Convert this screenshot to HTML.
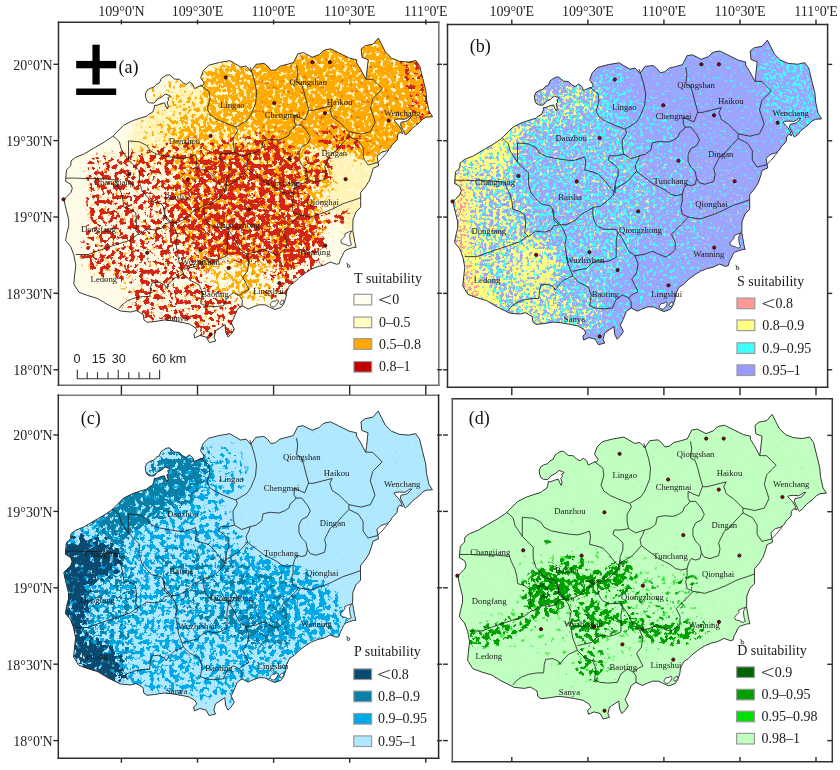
<!DOCTYPE html><html><head><meta charset="utf-8"><style>html,body{margin:0;padding:0;background:#fff;width:840px;height:770px;overflow:hidden}svg{display:block;will-change:transform}</style></head><body>
<svg width="840" height="770" viewBox="0 0 840 770">
<defs>
<path id="isl" d="M459.9,550.4 L460.4,546.2 L462.5,544.0 L464.6,542.1 L464.8,537.3 L469.3,533.8 L478.2,530.2 L487.1,524.8 L497.9,518.6 L505.9,513.2 L508.6,510.5 L517.5,501.6 L526.4,497.1 L535.0,494.2 L540.8,492.5 L542.5,490.8 L546.7,488.3 L547.9,485.0 L548.3,481.7 L550.8,481.7 L555.0,480.0 L558.3,479.2 L559.6,482.5 L561.2,485.4 L562.1,482.5 L560.8,478.3 L562.5,476.7 L561.7,474.2 L564.2,472.5 L562.5,471.7 L559.2,470.4 L555.0,473.8 L550.8,475.8 L549.2,478.3 L547.5,479.5 L543.3,479.2 L540.8,477.5 L539.6,474.2 L539.2,470.0 L540.8,466.7 L544.2,464.6 L547.5,463.8 L550.0,460.8 L553.3,459.2 L555.0,455.0 L557.5,453.3 L560.0,451.7 L563.3,451.2 L565.8,453.3 L568.3,455.4 L573.3,455.8 L576.7,459.2 L580.0,460.8 L583.3,458.3 L586.7,460.8 L588.3,465.0 L593.3,462.5 L596.7,461.7 L598.0,459.5 L594.5,454.1 L597.1,447.0 L602.5,441.6 L613.2,438.9 L623.9,437.1 L628.4,439.8 L634.6,443.4 L640.0,442.5 L642.7,445.2 L644.5,447.9 L649.8,440.7 L657.9,439.8 L661.4,442.5 L665.0,447.0 L669.5,446.1 L673.9,442.5 L681.1,440.7 L687.3,438.9 L691.8,430.0 L697.1,429.1 L706.1,433.6 L713.2,430.9 L716.8,427.3 L720.0,426.0 L724.7,425.3 L732.5,429.2 L743.4,434.6 L750.4,436.2 L750.4,439.3 L754.3,445.5 L759.7,455.6 L760.5,450.2 L762.0,436.2 L755.8,433.8 L755.0,425.3 L759.0,422.1 L766.8,420.6 L772.2,414.4 L775.3,420.6 L779.2,428.4 L785.5,434.6 L793.2,437.7 L802.6,438.5 L809.6,437.0 L813.5,442.4 L816.6,454.9 L819.7,467.3 L820.5,476.7 L822.9,487.6 L826.4,493.2 L820.0,493.6 L816.4,495.7 L812.9,499.3 L809.3,502.1 L805.7,505.0 L802.9,508.6 L799.3,511.4 L798.6,510.7 L797.1,507.1 L795.7,504.3 L794.3,501.4 L795.0,498.6 L798.6,497.9 L801.4,497.1 L805.7,492.5 L803.6,492.5 L801.4,494.3 L798.6,495.7 L793.6,495.4 L789.3,495.7 L787.9,496.4 L790.0,499.3 L792.9,502.1 L795.0,505.7 L796.4,510.0 L793.6,508.6 L791.4,511.4 L791.1,515.7 L788.6,518.6 L785.7,521.4 L784.3,524.3 L780.7,527.1 L775.7,528.6 L773.6,530.0 L770.9,532.9 L772.5,542.3 L767.0,544.6 L765.5,550.1 L763.1,557.1 L759.2,563.3 L754.5,568.8 L754.5,577.3 L754.5,583.6 L749.9,588.2 L746.8,596.0 L746.6,607.0 L747.5,612.0 L748.5,618.0 L749.9,623.8 L747.3,623.8 L743.4,625.1 L739.5,626.4 L737.5,629.0 L736.2,632.2 L734.3,635.5 L733.0,640.0 L730.4,640.7 L724.2,638.4 L717.9,641.5 L711.7,643.0 L705.5,645.4 L699.2,649.3 L693.0,654.0 L688.3,658.6 L683.6,661.8 L680.5,668.0 L679.7,674.2 L677.4,680.5 L675.1,683.6 L668.8,685.9 L663.4,683.6 L658.7,681.2 L652.5,681.2 L646.2,683.6 L642.2,685.5 L636.0,682.3 L631.3,685.5 L628.2,693.2 L625.1,699.5 L628.2,705.7 L625.1,710.4 L621.9,713.5 L619.6,708.8 L618.8,701.0 L609.5,707.3 L607.9,713.5 L609.5,717.4 L603.2,719.0 L600.1,713.5 L593.9,711.9 L588.4,714.3 L587.7,710.4 L590.8,707.3 L589.2,704.2 L583.0,700.3 L575.2,698.7 L565.8,697.1 L558.1,696.4 L548.7,697.9 L540.9,698.7 L537.8,696.4 L537.0,690.9 L533.1,688.6 L530.0,687.0 L524.7,688.4 L514.3,687.4 L510.1,685.3 L501.8,681.2 L491.4,674.9 L481.1,671.8 L472.8,668.7 L467.6,660.4 L468.6,650.0 L469.6,641.7 L467.6,631.3 L464.5,623.0 L459.4,616.9 L460.4,610.6 L462.5,602.3 L462.5,596.1 L460.4,587.8 L458.9,581.6 L457.8,575.8 L460.4,573.2 L464.6,569.1 L466.1,564.9 L464.6,560.8 L459.4,557.7Z"/>
<clipPath id="clip"><use href="#isl"/></clipPath>
<g id="bnd" fill="none" stroke="#1a1a1a" stroke-width="0.8" stroke-linejoin="round"><polyline points="594.3,461.4 602.9,468.1 603.8,475.7 601.0,485.2 603.8,491.0 610.5,495.7 621.9,500.5 629.5,503.3 633.3,501.4 641.0,496.7 644.8,491.0 649.5,479.5 650.5,468.1 648.6,458.6 645.7,449.0 643.8,443.3"/><polyline points="690.5,441.4 691.7,448.6 690.5,458.1 695.2,460.5 697.6,467.6 700.0,477.1 702.4,485.5 702.4,486.7"/><polyline points="702.4,486.7 707.1,486.7 716.7,484.3 726.2,481.9 723.8,486.7 726.2,493.8 733.3,498.6 738.1,503.3 742.9,508.1 754.8,510.5 764.3,508.1"/><polyline points="759.7,455.6 766.7,455.7 771.4,460.5 776.2,465.2 766.7,474.8 764.3,484.3 766.7,491.4 769.0,498.6 764.3,508.1"/><polyline points="742.9,508.1 742.9,512.9 752.4,517.6 757.1,524.8 757.1,534.3 761.9,541.4 771.4,539.0 776.2,534.3 782.5,526.5"/><polyline points="630.0,503.5 631.4,507.1 627.1,514.3 627.1,521.4 628.6,528.6 621.4,530.0 614.3,530.0 612.9,534.3 618.6,538.6 622.9,542.9 622.9,550.0 620.0,557.1 620.0,562.9 620.0,567.1"/><polyline points="702.4,486.7 698.8,496.2 692.9,493.8 688.1,491.4 688.1,498.6 690.0,501.4 687.9,504.3 684.3,507.1 682.9,511.4 678.6,514.3 672.9,516.4 664.3,515.7 657.1,517.1 655.7,524.3 650.0,528.6 644.3,530.0 635.7,532.9 628.6,528.6"/><polyline points="690.0,501.4 695.7,501.4 701.4,508.6 704.3,514.3 701.4,520.0 695.7,522.9 692.9,528.6 692.9,535.7 695.7,541.4 700.0,545.7 701.4,552.9 700.0,558.6 695.7,560.0 691.4,558.6"/><polyline points="742.9,512.9 736.0,520.0 730.0,527.1 724.3,531.4 721.4,537.1 718.6,542.9 720.0,548.6 718.6,555.7 710.0,558.6 704.3,557.1 701.4,552.9"/><polyline points="691.4,558.6 688.6,562.9 687.1,568.6 681.4,570.0 675.7,568.6 670.0,564.3 664.3,561.4 658.6,558.6 652.9,554.3 647.1,550.0 641.4,545.7 640.0,540.0 642.9,534.3 644.3,530.0"/><polyline points="620.0,563.0 632.0,556.0 641.4,545.7"/><polyline points="687.1,568.6 687.1,575.7 685.7,581.4 687.1,588.6 693.3,591.4 704.8,593.3 716.2,589.5 725.7,585.7 737.1,580.0 748.6,576.2 754.4,574.0"/><polyline points="693.3,591.4 685.7,599.0 676.2,608.6 680.0,616.2 680.0,623.8 676.2,627.6 670.5,631.4"/><polyline points="506.8,512.7 509.5,514.5 513.2,518.2 515.0,525.5 518.6,530.9 522.3,536.4 522.3,517.3 533.2,518.2 540.5,521.8 544.1,527.3 551.4,530.9 560.5,532.7 571.4,534.5 578.1,534.8 584.8,532.9 589.5,531.0 590.5,536.7 589.5,544.3 597.1,546.2 602.9,548.1 608.6,553.8 614.3,561.4 620.0,567.1"/><polyline points="522.3,536.4 527.7,541.8 533.2,547.3 533.2,558.2 535.9,567.3 540.5,572.7 545.9,578.2 555.0,580.0 558.6,585.5 558.6,594.5 564.1,599.1"/><polyline points="557.1,583.4 558.7,591.2 564.9,599.0 571.2,599.0 580.5,594.3 586.8,588.0 593.0,584.9 597.7,581.8 605.5,580.3 611.7,575.6 617.9,569.4 619.5,563.1 620.0,560.0"/><polyline points="459.5,554.5 469.5,554.5 480.0,555.0 495.0,555.0 509.5,556.4 511.4,561.8 515.0,569.1 516.8,576.4 517.7,583.6 524.1,585.5 529.5,589.1 530.5,598.2 529.5,607.3 533.2,610.9"/><polyline points="533.2,610.9 540.5,605.5 549.5,606.4 555.9,604.5 558.6,600.0 564.1,599.1"/><polyline points="469.5,630.9 482.3,630.9 491.4,627.3 502.3,623.6 513.2,620.0 524.1,616.4 531.4,610.9 533.2,610.9"/><polyline points="564.9,599.0 568.0,603.6 571.2,611.4 569.6,619.2 571.2,628.6 572.7,637.9 575.8,645.7 577.4,650.4"/><polyline points="597.7,581.8 597.7,589.6 599.2,595.8 602.3,600.5 608.6,603.6 614.8,603.6 621.0,603.6 622.6,606.8 621.0,614.5 621.0,622.3 621.0,631.7 614.8,634.8 608.6,636.4 602.3,634.8 596.1,637.9 591.4,642.6 583.6,644.2 577.4,645.7"/><polyline points="622.6,606.8 627.3,613.0 630.4,619.2 633.5,625.5 639.7,630.1 649.1,628.6 656.9,625.5 670.5,631.4"/><polyline points="639.7,630.1 642.9,637.9 641.3,647.3 636.6,653.5 639.7,659.7 642.9,666.0 636.6,669.1 633.5,672.2 636.0,676.0 636.0,682.3"/><polyline points="577.4,650.4 568.6,654.3 562.9,660.0 560.0,664.3 558.6,661.4 552.9,658.6 545.7,659.3 544.3,664.3 543.6,672.9 537.1,672.9 528.6,674.3 521.4,677.1 515.7,681.4 512.9,685.0"/><polyline points="577.4,650.4 583.6,656.6 593.0,661.3 596.1,669.1 594.5,680.0 600.1,682.3 607.9,683.1 617.3,682.3 621.0,673.8 627.3,669.1 633.5,672.2"/></g>
<g id="lag" fill="#fff" stroke="#222" stroke-width="0.8"><polygon points="746.0,607.2 742.1,608.5 738.8,610.1 738.8,612.7 736.2,615.3 734.6,617.3 735.6,619.9 739.5,620.8 742.7,622.5 745.3,621.2 744.0,617.3 743.4,611.4 744.7,608.8"/><polygon points="664.3,680.0 666.0,677.8 669.0,677.5 671.0,676.0 672.1,678.0 670.5,681.0 668.0,683.6 665.5,683.0 664.0,681.5"/><polygon points="673.6,679.5 675.5,676.8 677.5,676.5 677.9,678.5 676.0,680.7 674.3,681.0"/></g>
<g id="islet" fill="none" stroke="#222" stroke-width="0.9"><circle cx="742.4" cy="642.6" r="1.3"/><path d="M740.6,639.2 L741.6,641.2"/></g>
<g id="dots" fill="#a00000" stroke="#111" stroke-width="0.9"><circle cx="619.6" cy="453.8" r="1.6"/><circle cx="604.4" cy="512.3" r="1.6"/><circle cx="523.2" cy="550.3" r="1.6"/><circle cx="581.6" cy="555.7" r="1.6"/><circle cx="706.2" cy="438.6" r="1.6"/><circle cx="723.7" cy="438.6" r="1.6"/><circle cx="668.1" cy="479.5" r="1.6"/><circle cx="718.8" cy="489.6" r="1.6"/><circle cx="782.4" cy="497" r="1.6"/><circle cx="683.3" cy="535.1" r="1.6"/><circle cx="739.4" cy="555.6" r="1.6"/><circle cx="457.3" cy="575.7" r="1.6"/><circle cx="541" cy="629.2" r="1.6"/><circle cx="594.2" cy="626.5" r="1.6"/><circle cx="642.9" cy="585.7" r="1.6"/><circle cx="719" cy="621.9" r="1.6"/><circle cx="622.4" cy="644.4" r="1.6"/><circle cx="673.3" cy="659.6" r="1.6"/><circle cx="604.5" cy="710.7" r="1.6"/></g>
</defs>
<clipPath id="clipa"><use href="#isl" transform="translate(-393.8,-376.4)"/></clipPath>
<use href="#isl" transform="translate(-393.8,-376.4)" fill="#fefbe6"/>
<g clip-path="url(#clipa)">
<filter id="sp1" filterUnits="userSpaceOnUse" x="0" y="0" width="840" height="770" color-interpolation-filters="sRGB"><feTurbulence type="fractalNoise" baseFrequency="0.25" numOctaves="3" seed="21" result="n"/><feColorMatrix in="n" type="matrix" values="0 0 0 0 0 0 0 0 0 0 0 0 0 0 0 1 0 0 0 0" result="na"/><feComponentTransfer in="na" result="u"><feFuncA type="table" tableValues="0.0000 0.0000 0.0000 0.0000 0.0001 0.0002 0.0007 0.0018 0.0046 0.0096 0.0173 0.0320 0.0518 0.0766 0.1140 0.1547 0.2122 0.2699 0.3346 0.4198 0.4937 0.5810 0.6668 0.7320 0.7975 0.8441 0.8842 0.9223 0.9466 0.9658 0.9814 0.9896 0.9954 0.9979 0.9992 0.9998 1.0000 1.0000 1.0000 1.0000 1.0000"/></feComponentTransfer><feGaussianBlur in="SourceAlpha" stdDeviation="6" result="bl"/><feComposite in="bl" in2="u" operator="arithmetic" k1="0" k2="1" k3="-1" k4="0.5" result="dd"/><feColorMatrix in="dd" type="matrix" values="0 0 0 0 1.000 0 0 0 0 0.957 0 0 0 0 0.706 0 0 0 6 -2.95"/></filter>
<g filter="url(#sp1)" fill="#fff"><polygon points="125.0,160.0 140.0,112.0 175.0,85.0 210.0,65.0 260.0,55.0 330.0,40.0 400.0,30.0 440.0,60.0 440.0,140.0 420.0,170.0 400.0,200.0 385.0,230.0 360.0,240.0 340.0,225.0 320.0,195.0 290.0,175.0 250.0,160.0 200.0,160.0 160.0,165.0" fill-opacity="0.95"/><polygon points="345.0,200.0 390.0,200.0 395.0,240.0 370.0,275.0 345.0,270.0" fill-opacity="0.4"/><ellipse cx="228" cy="272" rx="14" ry="14" fill-opacity="0.35"/></g>
<filter id="sp2" filterUnits="userSpaceOnUse" x="0" y="0" width="840" height="770" color-interpolation-filters="sRGB"><feTurbulence type="fractalNoise" baseFrequency="0.25" numOctaves="3" seed="22" result="n"/><feColorMatrix in="n" type="matrix" values="0 0 0 0 0 0 0 0 0 0 0 0 0 0 0 1 0 0 0 0" result="na"/><feComponentTransfer in="na" result="u"><feFuncA type="table" tableValues="0.0000 0.0000 0.0000 0.0000 0.0001 0.0002 0.0007 0.0018 0.0046 0.0096 0.0173 0.0320 0.0518 0.0766 0.1140 0.1547 0.2122 0.2699 0.3346 0.4198 0.4937 0.5810 0.6668 0.7320 0.7975 0.8441 0.8842 0.9223 0.9466 0.9658 0.9814 0.9896 0.9954 0.9979 0.9992 0.9998 1.0000 1.0000 1.0000 1.0000 1.0000"/></feComponentTransfer><feGaussianBlur in="SourceAlpha" stdDeviation="5" result="bl"/><feComposite in="bl" in2="u" operator="arithmetic" k1="0" k2="1" k3="-1" k4="0.5" result="dd"/><feColorMatrix in="dd" type="matrix" values="0 0 0 0 1.000 0 0 0 0 0.667 0 0 0 0 0.000 0 0 0 6 -2.95"/></filter>
<g filter="url(#sp2)" fill="#fff"><polygon points="252.0,62.0 300.0,55.0 330.0,42.0 375.0,35.0 410.0,32.0 425.0,60.0 435.0,100.0 435.0,120.0 415.0,127.0 400.0,148.0 380.0,160.0 360.0,160.0 340.0,150.0 315.0,148.0 290.0,150.0 268.0,145.0 252.0,130.0 250.0,100.0" fill-opacity="0.9"/><polygon points="205.0,68.0 235.0,62.0 250.0,70.0 252.0,100.0 252.0,125.0 240.0,130.0 215.0,125.0 205.0,105.0 200.0,85.0" fill-opacity="0.75"/><polygon points="170.0,150.0 200.0,155.0 250.0,140.0 290.0,145.0 330.0,165.0 335.0,185.0 320.0,200.0 330.0,230.0 300.0,260.0 270.0,300.0 240.0,300.0 210.0,280.0 190.0,250.0 175.0,210.0" fill-opacity="0.6"/><polygon points="90.0,158.0 140.0,150.0 200.0,155.0 175.0,210.0 190.0,250.0 210.0,280.0 240.0,300.0 240.0,320.0 200.0,330.0 150.0,320.0 120.0,300.0 88.0,270.0 85.0,200.0" fill-opacity="0.15"/><polygon points="180.0,105.0 215.0,110.0 250.0,128.0 255.0,150.0 215.0,155.0 180.0,150.0" fill-opacity="0.35"/><ellipse cx="190" cy="132" rx="30" ry="16" fill-opacity="0.4"/><polygon points="130.0,85.0 180.0,80.0 200.0,100.0 180.0,110.0 140.0,110.0" fill-opacity="0.2"/><polygon points="125.0,160.0 140.0,112.0 175.0,85.0 210.0,65.0 250.0,60.0 250.0,140.0 200.0,150.0 160.0,160.0" fill-opacity="0.15"/></g>
<filter id="sp3" filterUnits="userSpaceOnUse" x="0" y="0" width="840" height="770" color-interpolation-filters="sRGB"><feTurbulence type="fractalNoise" baseFrequency="0.2" numOctaves="3" seed="23" result="n"/><feColorMatrix in="n" type="matrix" values="0 0 0 0 0 0 0 0 0 0 0 0 0 0 0 1 0 0 0 0" result="na"/><feComponentTransfer in="na" result="u"><feFuncA type="table" tableValues="0.0000 0.0000 0.0000 0.0000 0.0001 0.0002 0.0007 0.0018 0.0046 0.0096 0.0173 0.0320 0.0518 0.0766 0.1140 0.1547 0.2122 0.2699 0.3346 0.4198 0.4937 0.5810 0.6668 0.7320 0.7975 0.8441 0.8842 0.9223 0.9466 0.9658 0.9814 0.9896 0.9954 0.9979 0.9992 0.9998 1.0000 1.0000 1.0000 1.0000 1.0000"/></feComponentTransfer><feGaussianBlur in="SourceAlpha" stdDeviation="3" result="bl"/><feComposite in="bl" in2="u" operator="arithmetic" k1="0" k2="1" k3="-1" k4="0.5" result="dd"/><feColorMatrix in="dd" type="matrix" values="0 0 0 0 0.831 0 0 0 0 0.141 0 0 0 0 0.078 0 0 0 7 -3.45"/></filter>
<g filter="url(#sp3)" fill="#fff"><polygon points="200.0,158.0 225.0,150.0 250.0,150.0 268.0,140.0 288.0,146.0 298.0,160.0 300.0,180.0 296.0,200.0 300.0,215.0 315.0,225.0 325.0,240.0 318.0,255.0 300.0,262.0 285.0,265.0 270.0,262.0 250.0,262.0 230.0,258.0 215.0,262.0 200.0,250.0 185.0,235.0 175.0,220.0 180.0,200.0 190.0,180.0" fill-opacity="0.64"/><polygon points="298.0,155.0 315.0,152.0 332.0,160.0 332.0,180.0 318.0,186.0 300.0,185.0" fill-opacity="0.45"/><polygon points="293.0,185.0 312.0,186.0 316.0,205.0 312.0,218.0 296.0,215.0" fill-opacity="0.45"/><polygon points="298.0,205.0 325.0,208.0 350.0,210.0 350.0,222.0 325.0,222.0 298.0,220.0" fill-opacity="0.35"/><polygon points="283.0,214.0 300.0,214.0 328.0,222.0 330.0,240.0 320.0,257.0 300.0,262.0 283.0,258.0" fill-opacity="0.15"/><polygon points="90.0,158.0 110.0,155.0 140.0,150.0 170.0,150.0 200.0,160.0 190.0,180.0 180.0,200.0 175.0,220.0 185.0,235.0 200.0,250.0 210.0,262.0 205.0,275.0 190.0,285.0 170.0,282.0 150.0,285.0 130.0,282.0 110.0,278.0 90.0,270.0 82.0,255.0 85.0,235.0 88.0,215.0 88.0,190.0 88.0,170.0" fill-opacity="0.42"/><polygon points="130.0,290.0 160.0,285.0 190.0,285.0 210.0,282.0 220.0,295.0 235.0,300.0 245.0,310.0 245.0,325.0 235.0,340.0 220.0,345.0 200.0,335.0 180.0,325.0 160.0,322.0 140.0,318.0 125.0,308.0" fill-opacity="0.4"/><polygon points="270.0,258.0 300.0,258.0 320.0,257.0 325.0,265.0 310.0,280.0 295.0,290.0 285.0,298.0 270.0,298.0 262.0,285.0" fill-opacity="0.45"/><polygon points="150.0,148.0 180.0,140.0 210.0,138.0 240.0,138.0 260.0,132.0 280.0,140.0 270.0,150.0 240.0,152.0 210.0,155.0 180.0,155.0 155.0,158.0" fill-opacity="0.3"/><polygon points="395.0,35.0 420.0,45.0 433.0,100.0 433.0,118.0 415.0,125.0 405.0,90.0 400.0,60.0" fill-opacity="0.25"/><polygon points="320.0,125.0 345.0,130.0 365.0,140.0 360.0,150.0 340.0,150.0 320.0,145.0" fill-opacity="0.35"/><polygon points="250.0,60.0 420.0,30.0 435.0,120.0 390.0,160.0 300.0,150.0 250.0,140.0" fill-opacity="0.06"/></g>
<filter id="sp4" filterUnits="userSpaceOnUse" x="0" y="0" width="840" height="770" color-interpolation-filters="sRGB"><feTurbulence type="fractalNoise" baseFrequency="0.18" numOctaves="3" seed="24" result="n"/><feColorMatrix in="n" type="matrix" values="0 0 0 0 0 0 0 0 0 0 0 0 0 0 0 1 0 0 0 0" result="na"/><feComponentTransfer in="na" result="u"><feFuncA type="table" tableValues="0.0000 0.0000 0.0000 0.0000 0.0001 0.0002 0.0007 0.0018 0.0046 0.0096 0.0173 0.0320 0.0518 0.0766 0.1140 0.1547 0.2122 0.2699 0.3346 0.4198 0.4937 0.5810 0.6668 0.7320 0.7975 0.8441 0.8842 0.9223 0.9466 0.9658 0.9814 0.9896 0.9954 0.9979 0.9992 0.9998 1.0000 1.0000 1.0000 1.0000 1.0000"/></feComponentTransfer><feGaussianBlur in="SourceAlpha" stdDeviation="4" result="bl"/><feComposite in="bl" in2="u" operator="arithmetic" k1="0" k2="1" k3="-1" k4="0.5" result="dd"/><feColorMatrix in="dd" type="matrix" values="0 0 0 0 0.996 0 0 0 0 0.984 0 0 0 0 0.902 0 0 0 6 -2.95"/></filter>
<g filter="url(#sp4)" fill="#fff"><ellipse cx="228" cy="272" rx="12" ry="12" fill-opacity="0.7"/><ellipse cx="270" cy="283" rx="14" ry="12" fill-opacity="0.7"/><ellipse cx="150" cy="258" rx="14" ry="10" fill-opacity="0.6"/><ellipse cx="150" cy="210" rx="10" ry="6" fill-opacity="0.5"/><ellipse cx="210" cy="185" rx="8" ry="6" fill-opacity="0.5"/></g>
</g>
<g transform="translate(-393.8,-376.4)">
<use href="#isl" fill="none" stroke="#222" stroke-width="0.9"/>
<use href="#lag"/><use href="#islet"/><use href="#bnd"/><use href="#dots"/>
</g>
<clipPath id="clipb"><use href="#isl" transform="translate(-4.8,-374.3)"/></clipPath>
<use href="#isl" transform="translate(-4.8,-374.3)" fill="#9ea3fb"/>
<g clip-path="url(#clipb)">
<filter id="sp5" filterUnits="userSpaceOnUse" x="0" y="0" width="840" height="770" color-interpolation-filters="sRGB"><feTurbulence type="fractalNoise" baseFrequency="0.3" numOctaves="3" seed="31" result="n"/><feColorMatrix in="n" type="matrix" values="0 0 0 0 0 0 0 0 0 0 0 0 0 0 0 1 0 0 0 0" result="na"/><feComponentTransfer in="na" result="u"><feFuncA type="table" tableValues="0.0000 0.0000 0.0000 0.0000 0.0001 0.0002 0.0007 0.0018 0.0046 0.0096 0.0173 0.0320 0.0518 0.0766 0.1140 0.1547 0.2122 0.2699 0.3346 0.4198 0.4937 0.5810 0.6668 0.7320 0.7975 0.8441 0.8842 0.9223 0.9466 0.9658 0.9814 0.9896 0.9954 0.9979 0.9992 0.9998 1.0000 1.0000 1.0000 1.0000 1.0000"/></feComponentTransfer><feGaussianBlur in="SourceAlpha" stdDeviation="5" result="bl"/><feComposite in="bl" in2="u" operator="arithmetic" k1="0" k2="1" k3="-1" k4="0.5" result="dd"/><feColorMatrix in="dd" type="matrix" values="0 0 0 0 0.251 0 0 0 0 1.000 0 0 0 0 1.000 0 0 0 6 -2.95"/></filter>
<g filter="url(#sp5)" fill="#fff"><polygon points="440.0,30.0 830.0,30.0 830.0,350.0 440.0,350.0" fill-opacity="0.13"/><polygon points="455.0,140.0 500.0,120.0 540.0,100.0 580.0,80.0 610.0,100.0 640.0,150.0 650.0,200.0 640.0,240.0 620.0,270.0 600.0,310.0 580.0,335.0 540.0,335.0 500.0,315.0 470.0,290.0 455.0,230.0" fill-opacity="0.35"/><ellipse cx="610" cy="95" rx="22" ry="28" fill-opacity="0.25"/><polygon points="600.0,90.0 660.0,100.0 700.0,180.0 700.0,260.0 660.0,300.0 620.0,330.0 600.0,340.0 580.0,335.0 640.0,240.0 650.0,200.0 640.0,150.0" fill-opacity="0.15"/><polygon points="780.0,40.0 822.0,60.0 825.0,120.0 790.0,140.0 770.0,120.0 760.0,70.0" fill-opacity="0.35"/></g>
<filter id="sp6" filterUnits="userSpaceOnUse" x="0" y="0" width="840" height="770" color-interpolation-filters="sRGB"><feTurbulence type="fractalNoise" baseFrequency="0.3" numOctaves="3" seed="32" result="n"/><feColorMatrix in="n" type="matrix" values="0 0 0 0 0 0 0 0 0 0 0 0 0 0 0 1 0 0 0 0" result="na"/><feComponentTransfer in="na" result="u"><feFuncA type="table" tableValues="0.0000 0.0000 0.0000 0.0000 0.0001 0.0002 0.0007 0.0018 0.0046 0.0096 0.0173 0.0320 0.0518 0.0766 0.1140 0.1547 0.2122 0.2699 0.3346 0.4198 0.4937 0.5810 0.6668 0.7320 0.7975 0.8441 0.8842 0.9223 0.9466 0.9658 0.9814 0.9896 0.9954 0.9979 0.9992 0.9998 1.0000 1.0000 1.0000 1.0000 1.0000"/></feComponentTransfer><feGaussianBlur in="SourceAlpha" stdDeviation="5" result="bl"/><feComposite in="bl" in2="u" operator="arithmetic" k1="0" k2="1" k3="-1" k4="0.5" result="dd"/><feColorMatrix in="dd" type="matrix" values="0 0 0 0 1.000 0 0 0 0 1.000 0 0 0 0 0.502 0 0 0 6 -2.95"/></filter>
<g filter="url(#sp6)" fill="#fff"><polygon points="453.0,170.0 462.0,168.0 470.0,175.0 474.0,200.0 472.0,225.0 475.0,250.0 476.0,262.0 480.0,275.0 490.0,290.0 500.0,300.0 495.0,312.0 470.0,300.0 458.0,275.0 455.0,240.0 452.0,200.0" fill-opacity="1.0"/><polygon points="460.0,145.0 480.0,138.0 500.0,130.0 515.0,122.0 525.0,130.0 515.0,150.0 510.0,170.0 490.0,175.0 470.0,172.0 460.0,160.0" fill-opacity="0.8"/><polygon points="470.0,175.0 510.0,170.0 520.0,200.0 535.0,235.0 550.0,260.0 560.0,290.0 555.0,320.0 530.0,325.0 500.0,310.0 478.0,280.0 472.0,230.0" fill-opacity="0.4"/><ellipse cx="535" cy="265" rx="25" ry="25" fill-opacity="0.6"/><polygon points="520.0,100.0 545.0,85.0 570.0,80.0 600.0,82.0 605.0,100.0 580.0,115.0 550.0,125.0 525.0,130.0" fill-opacity="0.3"/><polygon points="520.0,290.0 560.0,295.0 600.0,300.0 610.0,320.0 590.0,335.0 550.0,330.0 520.0,315.0" fill-opacity="0.25"/><polygon points="640.0,150.0 720.0,150.0 760.0,200.0 700.0,260.0 640.0,250.0" fill-opacity="0.08"/><polygon points="455.0,140.0 500.0,120.0 540.0,100.0 580.0,80.0 610.0,100.0 640.0,150.0 650.0,200.0 640.0,240.0 620.0,270.0 600.0,310.0 580.0,335.0 540.0,335.0 500.0,315.0 470.0,290.0 455.0,230.0" fill-opacity="0.15"/></g>
<filter id="sp7" filterUnits="userSpaceOnUse" x="0" y="0" width="840" height="770" color-interpolation-filters="sRGB"><feTurbulence type="fractalNoise" baseFrequency="0.35" numOctaves="3" seed="33" result="n"/><feColorMatrix in="n" type="matrix" values="0 0 0 0 0 0 0 0 0 0 0 0 0 0 0 1 0 0 0 0" result="na"/><feComponentTransfer in="na" result="u"><feFuncA type="table" tableValues="0.0000 0.0000 0.0000 0.0000 0.0001 0.0002 0.0007 0.0018 0.0046 0.0096 0.0173 0.0320 0.0518 0.0766 0.1140 0.1547 0.2122 0.2699 0.3346 0.4198 0.4937 0.5810 0.6668 0.7320 0.7975 0.8441 0.8842 0.9223 0.9466 0.9658 0.9814 0.9896 0.9954 0.9979 0.9992 0.9998 1.0000 1.0000 1.0000 1.0000 1.0000"/></feComponentTransfer><feGaussianBlur in="SourceAlpha" stdDeviation="4" result="bl"/><feComposite in="bl" in2="u" operator="arithmetic" k1="0" k2="1" k3="-1" k4="0.5" result="dd"/><feColorMatrix in="dd" type="matrix" values="0 0 0 0 1.000 0 0 0 0 0.600 0 0 0 0 0.600 0 0 0 6 -2.95"/></filter>
<g filter="url(#sp7)" fill="#fff"><polygon points="453.0,172.0 462.0,170.0 468.0,200.0 466.0,230.0 470.0,260.0 478.0,285.0 488.0,300.0 470.0,300.0 460.0,275.0 455.0,240.0" fill-opacity="0.45"/></g>
</g>
<g transform="translate(-4.8,-374.3)">
<use href="#isl" fill="none" stroke="#222" stroke-width="0.9"/>
<use href="#lag"/><use href="#islet"/><use href="#bnd"/><use href="#dots"/>
</g>
<clipPath id="clipc"><use href="#isl" transform="translate(-394.0,-3.4)"/></clipPath>
<use href="#isl" transform="translate(-394.0,-3.4)" fill="#b0e8ff"/>
<g clip-path="url(#clipc)">
<filter id="sp8" filterUnits="userSpaceOnUse" x="0" y="0" width="840" height="770" color-interpolation-filters="sRGB"><feTurbulence type="fractalNoise" baseFrequency="0.2" numOctaves="3" seed="41" result="n"/><feColorMatrix in="n" type="matrix" values="0 0 0 0 0 0 0 0 0 0 0 0 0 0 0 1 0 0 0 0" result="na"/><feComponentTransfer in="na" result="u"><feFuncA type="table" tableValues="0.0000 0.0000 0.0000 0.0000 0.0001 0.0002 0.0007 0.0018 0.0046 0.0096 0.0173 0.0320 0.0518 0.0766 0.1140 0.1547 0.2122 0.2699 0.3346 0.4198 0.4937 0.5810 0.6668 0.7320 0.7975 0.8441 0.8842 0.9223 0.9466 0.9658 0.9814 0.9896 0.9954 0.9979 0.9992 0.9998 1.0000 1.0000 1.0000 1.0000 1.0000"/></feComponentTransfer><feGaussianBlur in="SourceAlpha" stdDeviation="5" result="bl"/><feComposite in="bl" in2="u" operator="arithmetic" k1="0" k2="1" k3="-1" k4="0.5" result="dd"/><feColorMatrix in="dd" type="matrix" values="0 0 0 0 0.000 0 0 0 0 0.659 0 0 0 0 0.910 0 0 0 6 -2.95"/></filter>
<g filter="url(#sp8)" fill="#fff"><polygon points="62.0,545.0 100.0,512.0 140.0,482.0 170.0,458.0 200.0,445.0 212.0,470.0 222.0,500.0 232.0,530.0 260.0,555.0 300.0,572.0 330.0,590.0 345.0,615.0 350.0,640.0 330.0,660.0 300.0,680.0 270.0,700.0 230.0,700.0 180.0,695.0 130.0,685.0 90.0,660.0 64.0,610.0" fill-opacity="0.5"/><ellipse cx="225" cy="470" rx="22" ry="25" fill-opacity="0.3"/><polygon points="240.0,560.0 280.0,560.0 320.0,575.0 340.0,600.0 330.0,625.0 300.0,640.0 270.0,640.0 250.0,620.0 235.0,590.0" fill-opacity="0.35"/></g>
<filter id="sp9" filterUnits="userSpaceOnUse" x="0" y="0" width="840" height="770" color-interpolation-filters="sRGB"><feTurbulence type="fractalNoise" baseFrequency="0.2" numOctaves="3" seed="42" result="n"/><feColorMatrix in="n" type="matrix" values="0 0 0 0 0 0 0 0 0 0 0 0 0 0 0 1 0 0 0 0" result="na"/><feComponentTransfer in="na" result="u"><feFuncA type="table" tableValues="0.0000 0.0000 0.0000 0.0000 0.0001 0.0002 0.0007 0.0018 0.0046 0.0096 0.0173 0.0320 0.0518 0.0766 0.1140 0.1547 0.2122 0.2699 0.3346 0.4198 0.4937 0.5810 0.6668 0.7320 0.7975 0.8441 0.8842 0.9223 0.9466 0.9658 0.9814 0.9896 0.9954 0.9979 0.9992 0.9998 1.0000 1.0000 1.0000 1.0000 1.0000"/></feComponentTransfer><feGaussianBlur in="SourceAlpha" stdDeviation="5" result="bl"/><feComposite in="bl" in2="u" operator="arithmetic" k1="0" k2="1" k3="-1" k4="0.5" result="dd"/><feColorMatrix in="dd" type="matrix" values="0 0 0 0 0.039 0 0 0 0 0.502 0 0 0 0 0.659 0 0 0 6 -2.95"/></filter>
<g filter="url(#sp9)" fill="#fff"><polygon points="90.0,520.0 120.0,495.0 140.0,480.0 165.0,452.0 200.0,443.0 210.0,462.0 205.0,480.0 190.0,498.0 170.0,510.0 150.0,522.0 130.0,535.0 118.0,545.0 105.0,535.0" fill-opacity="0.85"/><polygon points="62.0,545.0 118.0,545.0 135.0,560.0 140.0,590.0 135.0,620.0 130.0,650.0 125.0,680.0 80.0,665.0 62.0,600.0" fill-opacity="0.35"/><polygon points="160.0,545.0 200.0,548.0 240.0,562.0 280.0,572.0 300.0,592.0 290.0,622.0 260.0,642.0 220.0,640.0 190.0,622.0 170.0,600.0 150.0,572.0" fill-opacity="0.3"/><polygon points="225.0,610.0 260.0,622.0 292.0,632.0 292.0,645.0 260.0,645.0 225.0,625.0" fill-opacity="0.5"/></g>
<filter id="sp10" filterUnits="userSpaceOnUse" x="0" y="0" width="840" height="770" color-interpolation-filters="sRGB"><feTurbulence type="fractalNoise" baseFrequency="0.2" numOctaves="3" seed="43" result="n"/><feColorMatrix in="n" type="matrix" values="0 0 0 0 0 0 0 0 0 0 0 0 0 0 0 1 0 0 0 0" result="na"/><feComponentTransfer in="na" result="u"><feFuncA type="table" tableValues="0.0000 0.0000 0.0000 0.0000 0.0001 0.0002 0.0007 0.0018 0.0046 0.0096 0.0173 0.0320 0.0518 0.0766 0.1140 0.1547 0.2122 0.2699 0.3346 0.4198 0.4937 0.5810 0.6668 0.7320 0.7975 0.8441 0.8842 0.9223 0.9466 0.9658 0.9814 0.9896 0.9954 0.9979 0.9992 0.9998 1.0000 1.0000 1.0000 1.0000 1.0000"/></feComponentTransfer><feGaussianBlur in="SourceAlpha" stdDeviation="4" result="bl"/><feComposite in="bl" in2="u" operator="arithmetic" k1="0" k2="1" k3="-1" k4="0.5" result="dd"/><feColorMatrix in="dd" type="matrix" values="0 0 0 0 0.043 0 0 0 0 0.290 0 0 0 0 0.439 0 0 0 6 -2.95"/></filter>
<g filter="url(#sp10)" fill="#fff"><polygon points="63.0,545.0 75.0,538.0 90.0,537.0 105.0,541.0 118.0,548.0 120.0,560.0 115.0,572.0 100.0,578.0 90.0,585.0 88.0,600.0 87.0,615.0 84.0,625.0 82.0,632.0 90.0,640.0 105.0,645.0 118.0,655.0 122.0,670.0 125.0,680.0 112.0,684.0 95.0,676.0 80.0,665.0 72.0,648.0 68.0,630.0 64.0,610.0 63.0,590.0 62.0,565.0" fill-opacity="0.97"/></g>
</g>
<g transform="translate(-394.0,-3.4)">
<use href="#isl" fill="none" stroke="#222" stroke-width="0.9"/>
<use href="#lag"/><use href="#islet"/><use href="#bnd"/>
</g>
<clipPath id="clipd"><use href="#isl" transform="translate(0,0)"/></clipPath>
<use href="#isl" transform="translate(0,0)" fill="#c0ffc0"/>
<g clip-path="url(#clipd)">
<filter id="sp11" filterUnits="userSpaceOnUse" x="0" y="0" width="840" height="770" color-interpolation-filters="sRGB"><feTurbulence type="fractalNoise" baseFrequency="0.18" numOctaves="3" seed="11" result="n"/><feColorMatrix in="n" type="matrix" values="0 0 0 0 0 0 0 0 0 0 0 0 0 0 0 1 0 0 0 0" result="na"/><feComponentTransfer in="na" result="u"><feFuncA type="table" tableValues="0.0000 0.0000 0.0000 0.0000 0.0001 0.0002 0.0007 0.0018 0.0046 0.0096 0.0173 0.0320 0.0518 0.0766 0.1140 0.1547 0.2122 0.2699 0.3346 0.4198 0.4937 0.5810 0.6668 0.7320 0.7975 0.8441 0.8842 0.9223 0.9466 0.9658 0.9814 0.9896 0.9954 0.9979 0.9992 0.9998 1.0000 1.0000 1.0000 1.0000 1.0000"/></feComponentTransfer><feGaussianBlur in="SourceAlpha" stdDeviation="3" result="bl"/><feComposite in="bl" in2="u" operator="arithmetic" k1="0" k2="1" k3="-1" k4="0.5" result="dd"/><feColorMatrix in="dd" type="matrix" values="0 0 0 0 0.000 0 0 0 0 0.878 0 0 0 0 0.000 0 0 0 6 -2.95"/></filter>
<g filter="url(#sp11)" fill="#fff"><polygon points="520.0,560.0 560.0,548.0 600.0,548.0 640.0,555.0 680.0,565.0 700.0,580.0 700.0,620.0 690.0,640.0 660.0,650.0 630.0,660.0 610.0,685.0 580.0,690.0 560.0,675.0 540.0,650.0 500.0,648.0 475.0,640.0 475.0,620.0 500.0,610.0 520.0,600.0" fill-opacity="0.1"/></g>
<filter id="sp12" filterUnits="userSpaceOnUse" x="0" y="0" width="840" height="770" color-interpolation-filters="sRGB"><feTurbulence type="fractalNoise" baseFrequency="0.2" numOctaves="3" seed="7" result="n"/><feColorMatrix in="n" type="matrix" values="0 0 0 0 0 0 0 0 0 0 0 0 0 0 0 1 0 0 0 0" result="na"/><feComponentTransfer in="na" result="u"><feFuncA type="table" tableValues="0.0000 0.0000 0.0000 0.0000 0.0001 0.0002 0.0007 0.0018 0.0046 0.0096 0.0173 0.0320 0.0518 0.0766 0.1140 0.1547 0.2122 0.2699 0.3346 0.4198 0.4937 0.5810 0.6668 0.7320 0.7975 0.8441 0.8842 0.9223 0.9466 0.9658 0.9814 0.9896 0.9954 0.9979 0.9992 0.9998 1.0000 1.0000 1.0000 1.0000 1.0000"/></feComponentTransfer><feGaussianBlur in="SourceAlpha" stdDeviation="3" result="bl"/><feComposite in="bl" in2="u" operator="arithmetic" k1="0" k2="1" k3="-1" k4="0.5" result="dd"/><feColorMatrix in="dd" type="matrix" values="0 0 0 0 0.000 0 0 0 0 0.627 0 0 0 0 0.000 0 0 0 6 -2.95"/></filter>
<g filter="url(#sp12)" fill="#fff"><ellipse cx="545" cy="592" rx="22" ry="24" fill-opacity="0.7"/><ellipse cx="562" cy="574" rx="24" ry="11" fill-opacity="0.5"/><polygon points="558.0,585.0 575.0,578.0 595.0,572.0 615.0,565.0 628.0,560.0 632.0,572.0 618.0,585.0 600.0,592.0 580.0,600.0 565.0,605.0" fill-opacity="0.6"/><ellipse cx="572" cy="562" rx="18" ry="8" fill-opacity="0.35"/><ellipse cx="593" cy="622" rx="22" ry="22" fill-opacity="0.6"/><polygon points="466.0,634.0 500.0,620.0 520.0,615.0 535.0,613.0 535.0,625.0 515.0,635.0 495.0,645.0 472.0,646.0" fill-opacity="0.55"/><polygon points="620.0,608.0 640.0,620.0 660.0,622.0 690.0,625.0 698.0,640.0 670.0,645.0 645.0,638.0 625.0,630.0 615.0,620.0" fill-opacity="0.6"/><ellipse cx="620" cy="582" rx="15" ry="20" fill-opacity="0.35"/><ellipse cx="590" cy="664" rx="15" ry="18" fill-opacity="0.4"/><ellipse cx="688" cy="583" rx="12" ry="8" fill-opacity="0.3"/><polygon points="600.0,575.0 660.0,575.0 690.0,600.0 690.0,625.0 640.0,620.0 610.0,605.0" fill-opacity="0.15"/><ellipse cx="700" cy="628" rx="12" ry="9" fill-opacity="0.3"/><ellipse cx="548" cy="540" rx="10" ry="6" fill-opacity="0.2"/></g>
<filter id="sp13" filterUnits="userSpaceOnUse" x="0" y="0" width="840" height="770" color-interpolation-filters="sRGB"><feTurbulence type="fractalNoise" baseFrequency="0.2" numOctaves="3" seed="3" result="n"/><feColorMatrix in="n" type="matrix" values="0 0 0 0 0 0 0 0 0 0 0 0 0 0 0 1 0 0 0 0" result="na"/><feComponentTransfer in="na" result="u"><feFuncA type="table" tableValues="0.0000 0.0000 0.0000 0.0000 0.0001 0.0002 0.0007 0.0018 0.0046 0.0096 0.0173 0.0320 0.0518 0.0766 0.1140 0.1547 0.2122 0.2699 0.3346 0.4198 0.4937 0.5810 0.6668 0.7320 0.7975 0.8441 0.8842 0.9223 0.9466 0.9658 0.9814 0.9896 0.9954 0.9979 0.9992 0.9998 1.0000 1.0000 1.0000 1.0000 1.0000"/></feComponentTransfer><feGaussianBlur in="SourceAlpha" stdDeviation="2.5" result="bl"/><feComposite in="bl" in2="u" operator="arithmetic" k1="0" k2="1" k3="-1" k4="0.5" result="dd"/><feColorMatrix in="dd" type="matrix" values="0 0 0 0 0.000 0 0 0 0 0.392 0 0 0 0 0.000 0 0 0 6 -2.95"/></filter>
<g filter="url(#sp13)" fill="#fff"><ellipse cx="545" cy="588" rx="12" ry="12" fill-opacity="0.35"/><ellipse cx="600" cy="580" rx="18" ry="6" fill-opacity="0.3"/><ellipse cx="590" cy="622" rx="10" ry="10" fill-opacity="0.2"/><ellipse cx="650" cy="630" rx="15" ry="6" fill-opacity="0.25"/></g>
</g>
<g transform="translate(0,0)">
<use href="#isl" fill="none" stroke="#222" stroke-width="0.9"/>
<use href="#lag"/><use href="#islet"/><use href="#bnd"/><use href="#dots"/>
</g>
<g font-family='"Liberation Serif", serif' font-size="8.7" fill="#1a1a1a">
<text x="220" y="108">Lingao</text>
<text x="168.8" y="144">Danzhou</text>
<text x="289.4" y="85.3">Qiongshan</text>
<text x="326.8" y="104.6">Haikou</text>
<text x="264.8" y="118">Chengmai</text>
<text x="321.6" y="156.4">Dingan</text>
<text x="383.9" y="115.8">Wenchang</text>
<text x="94.1" y="185.3">Changjiang</text>
<text x="164.4" y="199.6">Baisha</text>
<text x="81" y="231.7">Dongfang</text>
<text x="181" y="264.6">Wuzhishan</text>
<text x="90.6" y="281.7">Ledong</text>
<text x="265.2" y="185.5">Tunchang</text>
<text x="306.6" y="205">Qionghai</text>
<text x="216.8" y="228.2">Qiongzhong</text>
<text x="299.4" y="254.7">Wanning</text>
<text x="201.3" y="296.5">Baoting</text>
<text x="252.9" y="294">Lingshui</text>
<text x="166.8" y="321">Sanya</text>
<text x="611.9" y="109.8">Lingao</text>
<text x="555.5" y="140.8">Danzhou</text>
<text x="677.3" y="88.3">Qiongshan</text>
<text x="718" y="103.9">Haikou</text>
<text x="655.8" y="118.8">Chengmai</text>
<text x="707.9" y="156.6">Dingan</text>
<text x="772.4" y="116.3">Wenchang</text>
<text x="475" y="184.8">Changjiang</text>
<text x="558.3" y="200.3">Baisha</text>
<text x="471.4" y="234.4">Dongfang</text>
<text x="565.5" y="263.4">Wuzhishan</text>
<text x="473.8" y="283.2">Ledong</text>
<text x="653.6" y="183.7">Tunchang</text>
<text x="695.3" y="206.7">Qionghai</text>
<text x="619" y="232.7">Qiongzhong</text>
<text x="693.3" y="256.5">Wanning</text>
<text x="591.7" y="296.7">Baoting</text>
<text x="651.2" y="296.7">Lingshui</text>
<text x="563.8" y="322">Sanya</text>
<text x="219" y="482">Lingao</text>
<text x="167.1" y="516.5">Danzhou</text>
<text x="282.9" y="459.8">Qiongshan</text>
<text x="323.8" y="475.8">Haikou</text>
<text x="263.8" y="491.3">Chengmai</text>
<text x="319.8" y="526">Dingan</text>
<text x="384" y="487.2">Wenchang</text>
<text x="85" y="556.5">Changjiang</text>
<text x="169.5" y="573.7">Baisha</text>
<text x="80.2" y="603.2">Dongfang</text>
<text x="177.9" y="628.9">Wuzhishan</text>
<text x="81" y="658.7">Ledong</text>
<text x="263.8" y="555.6">Tunchang</text>
<text x="306" y="576.2">Qionghai</text>
<text x="210" y="600.7">Qiongzhong</text>
<text x="300.8" y="627">Wanning</text>
<text x="205.2" y="671">Baoting</text>
<text x="257.6" y="668.9">Lingshui</text>
<text x="166" y="693.7">Sanya</text>
<text x="612.4" y="478.2">Lingao</text>
<text x="554.3" y="514.3">Danzhou</text>
<text x="676.7" y="457.2">Qiongshan</text>
<text x="716.7" y="475.7">Haikou</text>
<text x="655.7" y="489.6">Chengmai</text>
<text x="711.5" y="528">Dingan</text>
<text x="773" y="486.5">Wenchang</text>
<text x="470.2" y="555.3">Changjiang</text>
<text x="555" y="572.8">Baisha</text>
<text x="471.8" y="604.2">Dongfang</text>
<text x="564" y="627.1">Wuzhishan</text>
<text x="475.6" y="658.5">Ledong</text>
<text x="653.3" y="559">Tunchang</text>
<text x="701.9" y="576.7">Qionghai</text>
<text x="621" y="599.6">Qiongzhong</text>
<text x="688.6" y="627.9">Wanning</text>
<text x="609.5" y="670">Baoting</text>
<text x="650.5" y="667.6">Lingshui</text>
<text x="558.8" y="694.5">Sanya</text>
</g>
<g stroke-width="1.5" stroke-linecap="square"><line x1="58.5" y1="22.3" x2="438.8" y2="22.3" stroke="#2e2e2e"/><line x1="438.8" y1="22.3" x2="438.8" y2="385.3" stroke="#6a6a6a"/><line x1="58.5" y1="385.3" x2="438.8" y2="385.3" stroke="#6a6a6a"/><line x1="58.5" y1="22.3" x2="58.5" y2="385.3" stroke="#2e2e2e"/></g>
<g stroke-width="1.5" stroke-linecap="square"><line x1="447.5" y1="24.4" x2="827.6" y2="24.4" stroke="#2e2e2e"/><line x1="827.6" y1="24.4" x2="827.6" y2="387.2" stroke="#2e2e2e"/><line x1="447.5" y1="387.2" x2="827.6" y2="387.2" stroke="#2e2e2e"/><line x1="447.5" y1="24.4" x2="447.5" y2="387.2" stroke="#2e2e2e"/></g>
<g stroke-width="1.5" stroke-linecap="square"><line x1="58.3" y1="395.3" x2="438.6" y2="395.3" stroke="#777777"/><line x1="438.6" y1="395.3" x2="438.6" y2="758.2" stroke="#262626"/><line x1="58.3" y1="758.2" x2="438.6" y2="758.2" stroke="#2e2e2e"/><line x1="58.3" y1="395.3" x2="58.3" y2="758.2" stroke="#2e2e2e"/></g>
<g stroke-width="1.5" stroke-linecap="square"><line x1="452.3" y1="398.7" x2="832.3" y2="398.7" stroke="#333333"/><line x1="832.3" y1="398.7" x2="832.3" y2="761.7" stroke="#3a3a3a"/><line x1="452.3" y1="761.7" x2="832.3" y2="761.7" stroke="#2e2e2e"/><line x1="452.3" y1="398.7" x2="452.3" y2="761.7" stroke="#555555"/></g>
<g stroke="#2a2a2a" stroke-width="1.4"><line x1="121.4" y1="19.6" x2="121.4" y2="24.4"/><line x1="121.4" y1="385.3" x2="121.4" y2="394.8"/><line x1="121.4" y1="758.2" x2="121.4" y2="762.8"/><line x1="197.5" y1="19.6" x2="197.5" y2="24.4"/><line x1="197.5" y1="385.3" x2="197.5" y2="394.8"/><line x1="197.5" y1="758.2" x2="197.5" y2="762.8"/><line x1="273.6" y1="19.6" x2="273.6" y2="24.4"/><line x1="273.6" y1="385.3" x2="273.6" y2="394.8"/><line x1="273.6" y1="758.2" x2="273.6" y2="762.8"/><line x1="349.7" y1="19.6" x2="349.7" y2="24.4"/><line x1="349.7" y1="385.3" x2="349.7" y2="394.8"/><line x1="349.7" y1="758.2" x2="349.7" y2="762.8"/><line x1="425.8" y1="19.6" x2="425.8" y2="24.4"/><line x1="425.8" y1="385.3" x2="425.8" y2="394.8"/><line x1="425.8" y1="758.2" x2="425.8" y2="762.8"/><line x1="53.4" y1="64.3" x2="58.5" y2="64.3"/><line x1="437.1" y1="64.3" x2="441.9" y2="64.3"/><line x1="53.4" y1="140.6" x2="58.5" y2="140.6"/><line x1="437.1" y1="140.6" x2="441.9" y2="140.6"/><line x1="53.4" y1="217.0" x2="58.5" y2="217.0"/><line x1="437.1" y1="217.0" x2="441.9" y2="217.0"/><line x1="53.4" y1="293.3" x2="58.5" y2="293.3"/><line x1="437.1" y1="293.3" x2="441.9" y2="293.3"/><line x1="53.4" y1="369.7" x2="58.5" y2="369.7"/><line x1="437.1" y1="369.7" x2="441.9" y2="369.7"/><line x1="511.8" y1="19.6" x2="511.8" y2="24.4"/><line x1="511.8" y1="387.2" x2="511.8" y2="395.2"/><line x1="511.8" y1="761.7" x2="511.8" y2="757.0"/><line x1="587.9" y1="19.6" x2="587.9" y2="24.4"/><line x1="587.9" y1="387.2" x2="587.9" y2="395.2"/><line x1="587.9" y1="761.7" x2="587.9" y2="757.0"/><line x1="663.9" y1="19.6" x2="663.9" y2="24.4"/><line x1="663.9" y1="387.2" x2="663.9" y2="395.2"/><line x1="663.9" y1="761.7" x2="663.9" y2="757.0"/><line x1="740.0" y1="19.6" x2="740.0" y2="24.4"/><line x1="740.0" y1="387.2" x2="740.0" y2="395.2"/><line x1="740.0" y1="761.7" x2="740.0" y2="757.0"/><line x1="816.0" y1="19.6" x2="816.0" y2="24.4"/><line x1="816.0" y1="387.2" x2="816.0" y2="395.2"/><line x1="816.0" y1="761.7" x2="816.0" y2="757.0"/><line x1="443.1" y1="64.4" x2="447.5" y2="64.4"/><line x1="827.6" y1="64.4" x2="832.2" y2="64.4"/><line x1="443.1" y1="140.8" x2="447.5" y2="140.8"/><line x1="827.6" y1="140.8" x2="832.2" y2="140.8"/><line x1="443.1" y1="217.1" x2="447.5" y2="217.1"/><line x1="827.6" y1="217.1" x2="832.2" y2="217.1"/><line x1="443.1" y1="293.4" x2="447.5" y2="293.4"/><line x1="827.6" y1="293.4" x2="832.2" y2="293.4"/><line x1="443.1" y1="369.8" x2="447.5" y2="369.8"/><line x1="827.6" y1="369.8" x2="832.2" y2="369.8"/><line x1="53.4" y1="435.0" x2="58.3" y2="435.0"/><line x1="437.1" y1="435.0" x2="441.9" y2="435.0"/><line x1="443.1" y1="435.0" x2="447.9" y2="435.0"/><line x1="53.4" y1="511.4" x2="58.3" y2="511.4"/><line x1="437.1" y1="511.4" x2="441.9" y2="511.4"/><line x1="443.1" y1="511.4" x2="447.9" y2="511.4"/><line x1="53.4" y1="587.8" x2="58.3" y2="587.8"/><line x1="437.1" y1="587.8" x2="441.9" y2="587.8"/><line x1="443.1" y1="587.8" x2="447.9" y2="587.8"/><line x1="53.4" y1="664.2" x2="58.3" y2="664.2"/><line x1="437.1" y1="664.2" x2="441.9" y2="664.2"/><line x1="443.1" y1="664.2" x2="447.9" y2="664.2"/><line x1="53.4" y1="740.6" x2="58.3" y2="740.6"/><line x1="437.1" y1="740.6" x2="441.9" y2="740.6"/><line x1="443.1" y1="740.6" x2="447.9" y2="740.6"/><line x1="832.3" y1="435.4" x2="827.2" y2="435.4"/><line x1="832.3" y1="511.7" x2="827.2" y2="511.7"/><line x1="832.3" y1="588.0" x2="827.2" y2="588.0"/><line x1="832.3" y1="664.3" x2="827.2" y2="664.3"/><line x1="832.3" y1="740.6" x2="827.2" y2="740.6"/></g>
<g font-family='"Liberation Serif", serif' font-size="14" fill="#222" text-anchor="middle">
<text x="121.4" y="15.9">109°0'N</text>
<text x="197.5" y="15.9">109°30'E</text>
<text x="273.6" y="15.9">110°0'E</text>
<text x="349.7" y="15.9">110°30'E</text>
<text x="425.8" y="15.9">111°0'E</text>
<text x="511.8" y="16.1">109°0'E</text>
<text x="587.9" y="16.1">109°30'E</text>
<text x="663.9" y="16.1">110°0'E</text>
<text x="740.0" y="16.1">110°30'E</text>
<text x="816.0" y="16.1">111°0'E</text>
</g>
<g font-family='"Liberation Serif", serif' font-size="14" fill="#222" text-anchor="end">
<text x="52.6" y="69.6">20°0'N</text>
<text x="52.6" y="145.9">19°30'N</text>
<text x="52.6" y="222.3">19°0'N</text>
<text x="52.6" y="298.6">18°30'N</text>
<text x="52.6" y="375.0">18°0'N</text>
<text x="52.6" y="440.3">20°0'N</text>
<text x="52.6" y="516.7">19°30'N</text>
<text x="52.6" y="593.1">19°0'N</text>
<text x="52.6" y="669.5">18°30'N</text>
<text x="52.6" y="745.9">18°0'N</text>
</g>
<g font-family='"Liberation Serif", serif' font-size="18" fill="#111">
<text x="118.6" y="73.2">(a)</text>
<text x="469.8" y="52.2">(b)</text>
<text x="80.8" y="424.0">(c)</text>
<text x="468.8" y="424.0">(d)</text>
</g>
<g fill="#000"><rect x="92.4" y="44.7" width="7.3" height="39.8"/><rect x="76.2" y="60.9" width="40" height="7.4"/><rect x="76.2" y="88.5" width="40" height="6.5"/></g>
<g stroke="#333" stroke-width="1.1" fill="none"><polyline points="77.3,369.7 77.3,378.8 159.6,378.8 159.6,369.7"/><line x1="118.3" y1="369.7" x2="118.3" y2="378.8"/><line x1="87.2" y1="372.2" x2="87.2" y2="378.8"/><line x1="97.5" y1="372.2" x2="97.5" y2="378.8"/><line x1="108" y1="372.2" x2="108" y2="378.8"/><line x1="128.7" y1="372.2" x2="128.7" y2="378.8"/><line x1="139" y1="372.2" x2="139" y2="378.8"/><line x1="149.7" y1="372.2" x2="149.7" y2="378.8"/></g>
<g font-family='"Liberation Sans", sans-serif' font-size="12.6" fill="#222"><text x="73.6" y="362.5">0</text><text x="91.7" y="362.5">15</text><text x="111.7" y="362.5">30</text><text x="152" y="362.5">60 km</text></g>
<text x="354.1" y="282.8" font-family='"Liberation Serif", serif' font-size="14" fill="#1a1a1a">T suitability</text><rect x="353.90000000000003" y="294.3" width="17.8" height="10.6" fill="#fefdf0" stroke="#9a9a9a" stroke-width="1.2"/><polyline points="391.0,295.5 379.5,299.8 391.0,304.1" fill="none" stroke="#222" stroke-width="0.9"/><text x="392.3" y="304.1" font-family='"Liberation Serif", serif' font-size="14" fill="#1a1a1a">0</text><rect x="353.90000000000003" y="317.1" width="17.8" height="10.6" fill="#ffffc0" stroke="#9a9a9a" stroke-width="1.2"/><text x="379.0" y="326.9" font-family='"Liberation Serif", serif' font-size="14" fill="#1a1a1a">0–0.5</text><rect x="353.90000000000003" y="338.70000000000005" width="17.8" height="10.6" fill="#ffaa00" stroke="#9a9a9a" stroke-width="1.2"/><text x="379.0" y="348.5" font-family='"Liberation Serif", serif' font-size="14" fill="#1a1a1a">0.5–0.8</text><rect x="353.90000000000003" y="361.5" width="17.8" height="10.6" fill="#c00000" stroke="#9a9a9a" stroke-width="1.2"/><text x="379.0" y="371.3" font-family='"Liberation Serif", serif' font-size="14" fill="#1a1a1a">0.8–1</text>
<text x="736.9" y="286.2" font-family='"Liberation Serif", serif' font-size="14" fill="#1a1a1a">S suitability</text><rect x="737.0" y="298.1" width="17.8" height="10.6" fill="#ff9999" stroke="#9a9a9a" stroke-width="1.2"/><polyline points="774.2,299.3 762.7,303.6 774.2,307.9" fill="none" stroke="#222" stroke-width="0.9"/><text x="775.5" y="307.9" font-family='"Liberation Serif", serif' font-size="14" fill="#1a1a1a">0.8</text><rect x="737.0" y="320.0" width="17.8" height="10.6" fill="#ffff80" stroke="#9a9a9a" stroke-width="1.2"/><text x="762.2" y="329.8" font-family='"Liberation Serif", serif' font-size="14" fill="#1a1a1a">0.8–0.9</text><rect x="737.0" y="342.8" width="17.8" height="10.6" fill="#40ffff" stroke="#9a9a9a" stroke-width="1.2"/><text x="762.2" y="352.6" font-family='"Liberation Serif", serif' font-size="14" fill="#1a1a1a">0.9–0.95</text><rect x="737.0" y="364.90000000000003" width="17.8" height="10.6" fill="#9999ff" stroke="#9a9a9a" stroke-width="1.2"/><text x="762.2" y="374.7" font-family='"Liberation Serif", serif' font-size="14" fill="#1a1a1a">0.95–1</text>
<text x="354.0" y="656.1" font-family='"Liberation Serif", serif' font-size="14" fill="#1a1a1a">P suitability</text><rect x="353.8" y="668.9" width="17.8" height="10.6" fill="#0b4a70" stroke="#9a9a9a" stroke-width="1.2"/><polyline points="389.9,670.1 378.4,674.4 389.9,678.7" fill="none" stroke="#222" stroke-width="0.9"/><text x="391.2" y="678.7" font-family='"Liberation Serif", serif' font-size="14" fill="#1a1a1a">0.8</text><rect x="353.8" y="691.1" width="17.8" height="10.6" fill="#0a80a8" stroke="#9a9a9a" stroke-width="1.2"/><text x="377.9" y="700.9" font-family='"Liberation Serif", serif' font-size="14" fill="#1a1a1a">0.8–0.9</text><rect x="353.8" y="713.5" width="17.8" height="10.6" fill="#00a8e8" stroke="#9a9a9a" stroke-width="1.2"/><text x="377.9" y="723.3" font-family='"Liberation Serif", serif' font-size="14" fill="#1a1a1a">0.9–0.95</text><rect x="353.8" y="735.9" width="17.8" height="10.6" fill="#b0e8ff" stroke="#9a9a9a" stroke-width="1.2"/><text x="377.9" y="745.7" font-family='"Liberation Serif", serif' font-size="14" fill="#1a1a1a">0.95–1</text>
<text x="737.2" y="654.6" font-family='"Liberation Serif", serif' font-size="14" fill="#1a1a1a">D suitability</text><rect x="736.6" y="666.9" width="17.8" height="10.6" fill="#006400" stroke="#9a9a9a" stroke-width="1.2"/><polyline points="773.5,668.1 762.0,672.4 773.5,676.7" fill="none" stroke="#222" stroke-width="0.9"/><text x="774.8" y="676.7" font-family='"Liberation Serif", serif' font-size="14" fill="#1a1a1a">0.9</text><rect x="736.6" y="689.3000000000001" width="17.8" height="10.6" fill="#00a000" stroke="#9a9a9a" stroke-width="1.2"/><text x="761.5" y="699.1" font-family='"Liberation Serif", serif' font-size="14" fill="#1a1a1a">0.9–0.95</text><rect x="736.6" y="711.2" width="17.8" height="10.6" fill="#00e000" stroke="#9a9a9a" stroke-width="1.2"/><text x="761.5" y="721.0" font-family='"Liberation Serif", serif' font-size="14" fill="#1a1a1a">0.95–0.98</text><rect x="736.6" y="733.4" width="17.8" height="10.6" fill="#c0ffc0" stroke="#9a9a9a" stroke-width="1.2"/><text x="761.5" y="743.2" font-family='"Liberation Serif", serif' font-size="14" fill="#1a1a1a">0.98–1</text>
</svg></body></html>
